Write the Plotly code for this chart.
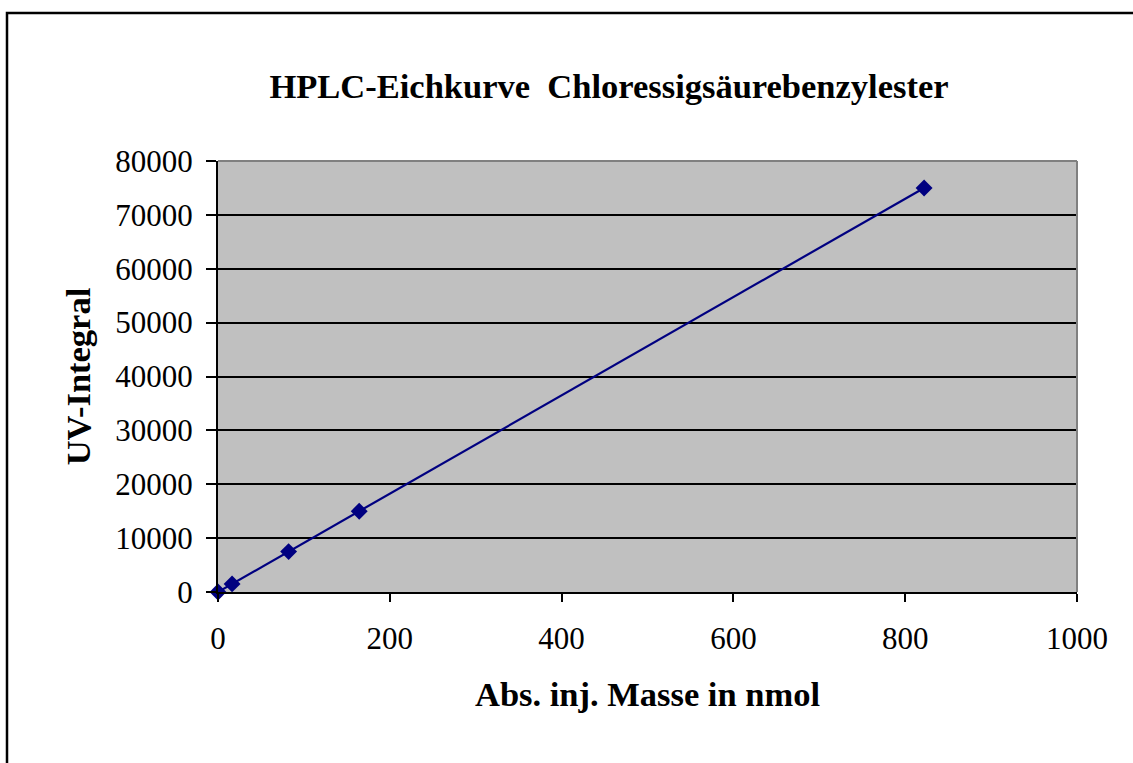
import plotly.graph_objects as go

# Calibration data: injected mass (nmol) vs. UV peak integral
masse_nmol = [0, 16.4, 82.2, 164.4, 822]
uv_integral = [0, 1500, 7500, 15000, 75000]

x_ticks = [0, 200, 400, 600, 800, 1000]
y_ticks = [0, 10000, 20000, 30000, 40000, 50000, 60000, 70000, 80000]

W, H = 1133, 763
ML, MR, MT, MB = 218, 56, 161, 171
pw, ph = W - ML - MR, H - MT - MB


def px_to_paper_x(px):
    return (px - ML) / pw


def px_to_paper_y(py):
    return 1 - (py - MT) / ph


navy = "#000080"
font_family = "Liberation Serif, Times New Roman, serif"

fig = go.Figure()
fig.add_trace(go.Scatter(
    x=masse_nmol, y=uv_integral,
    mode="lines+markers",
    line=dict(color=navy, width=2.2),
    marker=dict(symbol="diamond", size=13, color=navy),
    showlegend=False,
    cliponaxis=False,
))

frame_left, frame_top = px_to_paper_x(7), px_to_paper_y(13)
shapes = [
    # outer chart frame: left and top edges
    dict(type="path", xref="paper", yref="paper",
         path=(f"M {frame_left},{px_to_paper_y(H)} "
               f"L {frame_left},{frame_top} "
               f"L {px_to_paper_x(W)},{frame_top}"),
         line=dict(color="black", width=2.5), layer="below"),
    # grey top and right edges of the plot area
    dict(type="line", xref="paper", yref="paper", x0=0, x1=1, y0=1, y1=1,
         line=dict(color="#808080", width=2), layer="above"),
    dict(type="line", xref="paper", yref="paper", x0=1, x1=1, y0=0, y1=1,
         line=dict(color="#808080", width=2), layer="above"),
]

fig.update_layout(
    width=W, height=H,
    margin=dict(l=ML, r=MR, t=MT, b=MB, pad=0),
    paper_bgcolor="white",
    plot_bgcolor="#C0C0C0",
    font=dict(family=font_family, size=31, color="black"),
    title=dict(
        text="<b>HPLC-Eichkurve  Chloressigsäurebenzylester</b>",
        x=px_to_paper_x(609), xref="paper", xanchor="center",
        y=1 - 86 / H, yref="container", yanchor="middle",
        font=dict(family=font_family, size=34.5, color="black"),
    ),
    shapes=shapes,
    xaxis=dict(
        range=[0, 1000], tickvals=x_ticks, ticktext=[str(v) for v in x_ticks],
        showgrid=False, zeroline=False,
        showline=True, linecolor="black", linewidth=2,
        ticks="outside", ticklen=8, tickwidth=2, tickcolor="black",
        ticklabelstandoff=10,
        tickfont=dict(size=31),
        title=dict(text="<b>Abs. inj. Masse in nmol</b>", standoff=27,
                   font=dict(size=34.5)),
    ),
    yaxis=dict(
        range=[0, 80000], tickvals=y_ticks, ticktext=[str(v) for v in y_ticks],
        showgrid=True, gridcolor="black", gridwidth=2,
        zeroline=False,
        showline=True, linecolor="black", linewidth=2,
        ticks="outside", ticklen=10, tickwidth=2, tickcolor="black",
        ticklabelstandoff=7,
        tickfont=dict(size=31),
        title=dict(text="<b>UV-Integral</b>", standoff=14,
                   font=dict(size=34.5)),
    ),
)

fig.write_html("out.html")
